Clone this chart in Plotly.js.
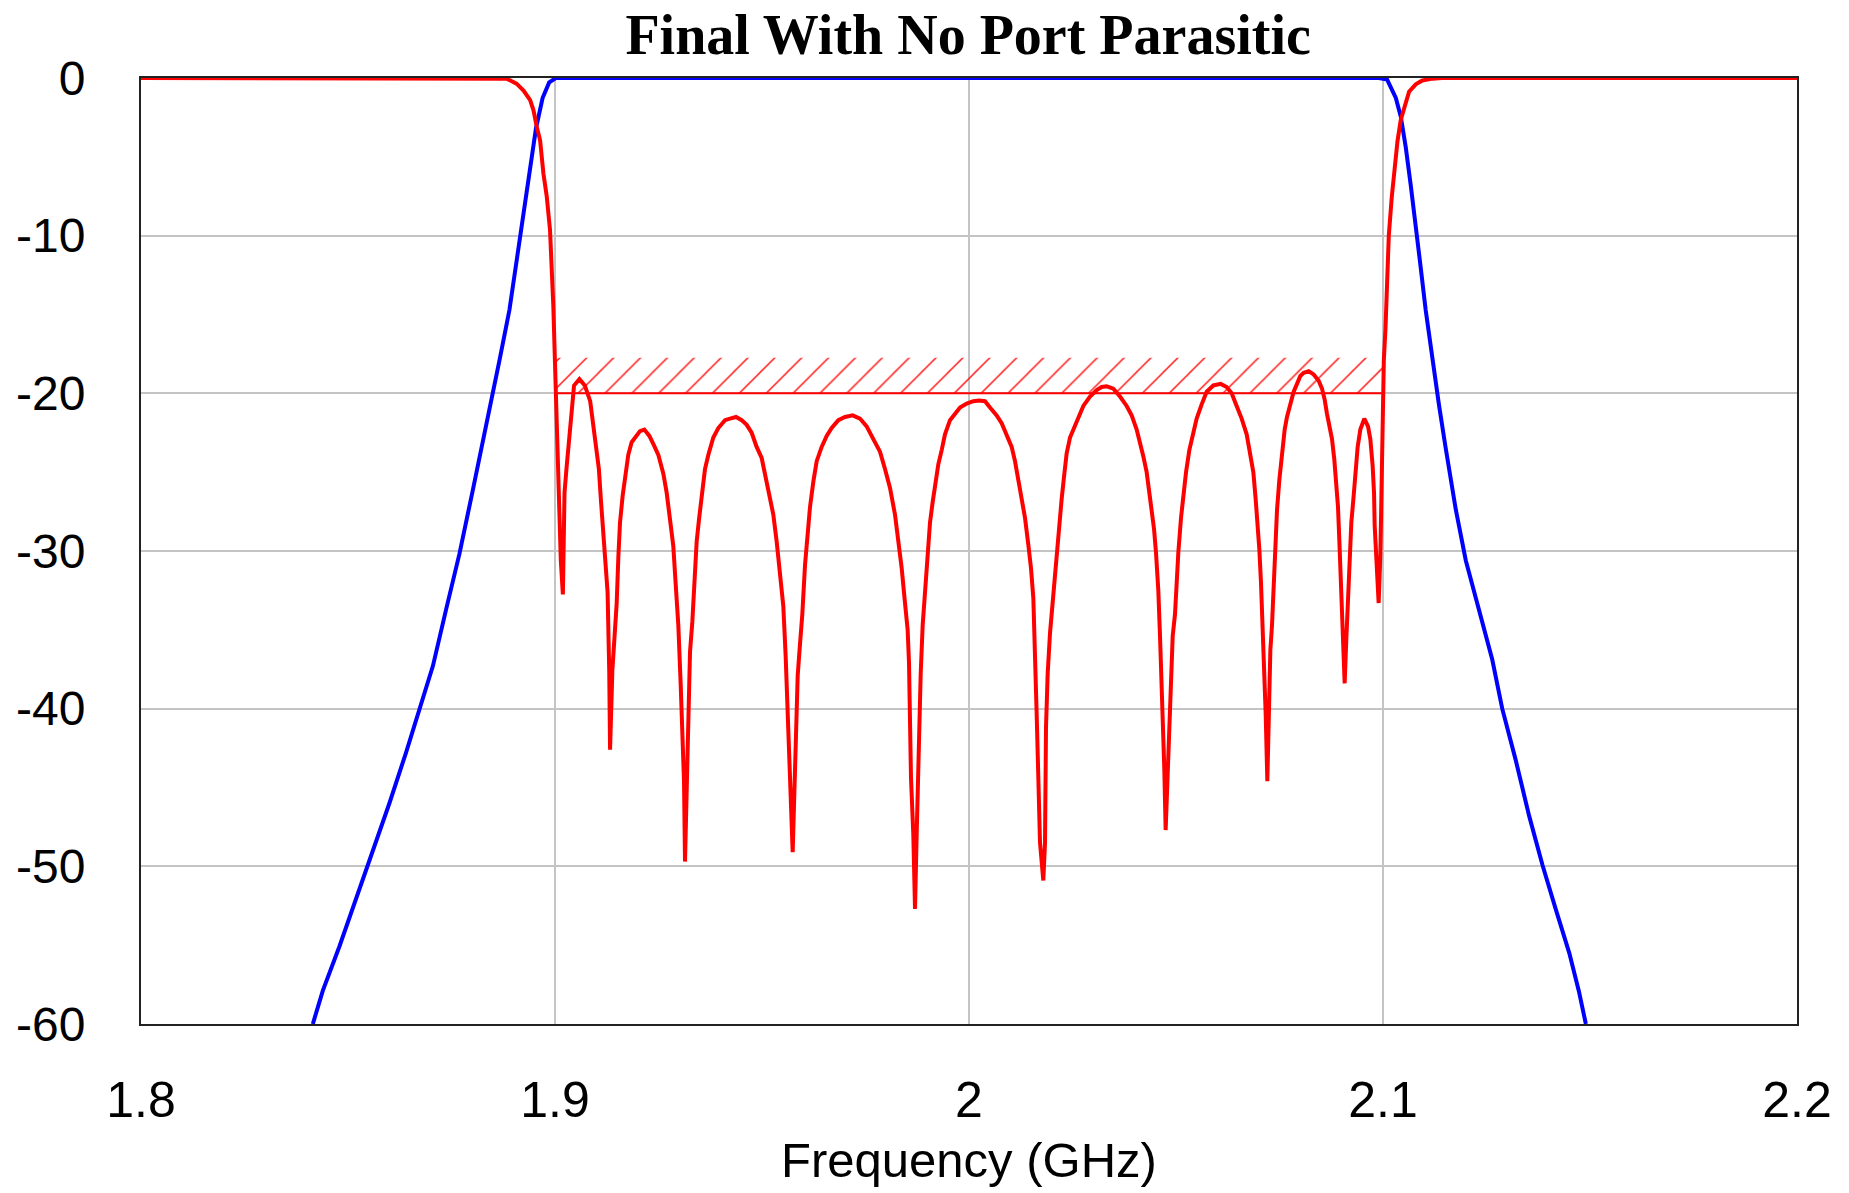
<!DOCTYPE html>
<html>
<head>
<meta charset="utf-8">
<script src="https://cdn.plot.ly/plotly-3.0.1.min.js"></script>
<style>
  html, body { margin: 0; padding: 0; background: #ffffff; }
  #chart { width: 1849px; height: 1193px; }
</style>
</head>
<body>
<div id="chart"></div>
<script>
// ---- Data ----
// S11 (red): frequency in GHz, magnitude in dB
const s11Freq = [
  1.8, 1.8839, 1.8883, 1.8907, 1.8924, 1.894, 1.8948, 1.8956, 1.8964, 1.8972, 1.898, 1.8988, 1.8992, 1.8996, 1.9, 1.9002,
  1.9004, 1.901, 1.9014, 1.9019, 1.9023, 1.9028, 1.9035, 1.904, 1.9046, 1.9059, 1.9072, 1.9085, 1.9093, 1.9101, 1.9106, 1.9111, 1.9117, 1.9123, 1.9127, 1.9131, 1.9133,
  1.91385, 1.91433, 1.9149, 1.9153, 1.9157, 1.91634, 1.9169, 1.9177, 1.91852, 1.91957, 1.92053, 1.92158, 1.92279, 1.92391, 1.92496, 1.92617, 1.92697, 1.92778, 1.92858, 1.92915, 1.92979, 1.93035, 1.93084, 1.93116, 1.9314,
  1.9318, 1.93221, 1.93261, 1.93317, 1.93366, 1.93422, 1.93478, 1.93543, 1.93623, 1.93704, 1.93824, 1.93945, 1.94106, 1.94227, 1.94372, 1.94509, 1.9463, 1.9475, 1.94871, 1.94992, 1.95113, 1.95193, 1.95274, 1.95354, 1.95435, 1.95515, 1.95572, 1.9562, 1.9566, 1.957, 1.95741,
  1.95781, 1.95813, 1.95862, 1.95918, 1.95974, 1.96039, 1.96095, 1.9616, 1.9624, 1.96321, 1.96441, 1.96562, 1.96683, 1.96844, 1.97005, 1.9719, 1.97367, 1.97528, 1.97689, 1.9785, 1.97971, 1.98092, 1.98213, 1.98293, 1.98374, 1.98454, 1.98518, 1.98551, 1.98575, 1.98599, 1.98655, 1.98696,
  1.98736, 1.98776, 1.98833, 1.98881, 1.98937, 1.98994, 1.99058, 1.99122, 1.99179, 1.99259, 1.9934, 1.9942, 1.99541, 1.99662, 1.99783, 1.99944, 2.00105, 2.00242, 2.00386, 2.00507, 2.00668, 2.00789, 2.0091, 2.01031, 2.01111, 2.01192, 2.01272, 2.01353, 2.01433, 2.01498, 2.01554, 2.01594, 2.01634, 2.01675, 2.01715, 2.01795,
  2.01836, 2.0186, 2.019, 2.01957, 2.02013, 2.02061, 2.02118, 2.02182, 2.02238, 2.02295, 2.02359, 2.0244, 2.0252, 2.02641, 2.02762, 2.02923, 2.03084, 2.03205, 2.03325, 2.03486, 2.03647, 2.03808, 2.03929, 2.0405, 2.0413, 2.04211, 2.04291, 2.04356, 2.04412, 2.04469, 2.04517, 2.04573, 2.04614, 2.04654, 2.04694, 2.04718, 2.0475,
  2.04799, 2.04839, 2.04879, 2.0492, 2.04976, 2.05016, 2.05056, 2.05121, 2.05177, 2.05242, 2.05322, 2.05403, 2.05499, 2.0562, 2.05741, 2.05902, 2.06079, 2.06224, 2.06345, 2.06465, 2.06586, 2.06707, 2.06787, 2.06868, 2.06924, 2.06973, 2.07013, 2.07053, 2.07093, 2.07126, 2.07166, 2.07206,
  2.07279, 2.07319, 2.07359, 2.074, 2.0744, 2.07496, 2.07561, 2.07625, 2.07681, 2.07762, 2.07842, 2.07923, 2.08003, 2.08084, 2.08205, 2.08325, 2.08446, 2.08527, 2.08591, 2.08647, 2.08712, 2.08768, 2.08824, 2.08873, 2.08913, 2.08945, 2.08977, 2.0901, 2.0905, 2.09074,
  2.09114, 2.09147, 2.09187, 2.09235, 2.09291, 2.09332, 2.09388, 2.09452, 2.09549, 2.09638, 2.09694, 2.0975, 2.09783, 2.09799, 2.09831, 2.09863, 2.09895, 2.09936, 2.0996, 2.09984, 2.1,
  2.1002, 2.1006, 2.101, 2.1014, 2.1021, 2.1027, 2.1035, 2.1043, 2.1051, 2.1063, 2.1079, 2.1095, 2.1119, 2.1143, 2.2
];
const s11dB = [
  0, 0, -0.04, -0.36, -0.8, -1.4, -2.05, -3.1, -3.95, -6.06, -7.5, -9.65, -11.55, -14.5, -18.1, -20,
  -22.7, -26.3, -30.6, -32.75, -26.3, -24.7, -22.9, -21.2, -19.5, -19.1, -19.5, -20.5, -22.2, -23.4, -24.8, -26.8, -29.2, -30.9, -32.6, -37.6, -42.6,
  -37.6, -35.5, -33.3, -30.4, -28.2, -26.5, -25.3, -23.9, -23.1, -22.7, -22.4, -22.3, -22.7, -23.3, -23.9, -25.1, -26.3, -28, -29.7, -32.1, -34.7, -38.4, -41.3, -44.6, -49.7,
  -44.6, -41, -36.4, -34.5, -32.3, -29.4, -28, -26.3, -24.8, -23.9, -22.8, -22.2, -21.7, -21.6, -21.5, -21.7, -22, -22.5, -23.4, -24.1, -25.6, -26.5, -27.7, -29.4, -31.6, -33.5, -36.7, -39.8, -42.7, -45.4, -49.1,
  -45.4, -42.2, -37.9, -35.9, -34, -30.9, -28.9, -27.2, -25.6, -24.3, -23.4, -22.7, -22.2, -21.7, -21.5, -21.4, -21.6, -22.1, -22.9, -23.7, -24.8, -26, -27.7, -29.2, -31.1, -33.3, -35, -37.1, -40.8, -44.4, -48, -52.7,
  -48, -42.4, -37.8, -34.7, -32.5, -30.6, -28.2, -26.9, -25.7, -24.5, -23.6, -22.6, -21.7, -21.3, -20.9, -20.65, -20.5, -20.45, -20.5, -20.9, -21.4, -21.9, -22.6, -23.4, -24.3, -25.5, -26.5, -27.9, -29.6, -31.1, -33, -35.9, -40.3, -44.4, -48.5, -50.9,
  -48.5, -41.2, -37.8, -35.2, -33.5, -31.5, -29.6, -28.2, -26.7, -25.3, -23.8, -22.8, -22.3, -21.4, -20.8, -20.2, -19.8, -19.6, -19.55, -19.7, -20.2, -20.8, -21.4, -22.3, -23.1, -24, -25, -26.2, -27.4, -28.6, -30.1, -32.5, -35.4, -38.3, -40.8, -43.9, -47.7,
  -44.4, -40.8, -37.8, -35.4, -34, -31.5, -30.1, -27.9, -26.5, -25, -23.6, -22.6, -21.6, -20.7, -19.9, -19.5, -19.4, -19.6, -20, -20.8, -21.6, -22.6, -23.8, -25, -26.7, -28.2, -29.9, -32, -34.7, -37.1, -40.3, -44.6,
  -36.3, -34.7, -32.2, -29.5, -27.4, -25.5, -23.6, -22.3, -21.5, -20.6, -19.9, -19.4, -18.9, -18.7, -18.6, -18.8, -19.2, -19.7, -20.4, -21.3, -22.1, -22.9, -24.2, -25.5, -27.2, -29.3, -31.8, -34.5, -36.6, -38.4,
  -35.6, -33.1, -30.1, -28.2, -26.5, -24.8, -23.4, -22.3, -21.6, -22.1, -22.9, -24.6, -26.3, -28.4, -30.5, -32.4, -33.3, -30.3, -26.7, -22.9, -20.2,
  -17.9, -15.9, -12.3, -10, -7.6, -5.8, -4.0, -2.65, -1.86, -0.87, -0.4, -0.16, -0.04, 0, 0
];

// S21 (blue): frequency in GHz, magnitude in dB
const s21Freq = [
  1.8415, 1.8439, 1.8479, 1.8519, 1.856, 1.86, 1.864, 1.8672, 1.8705, 1.8737, 1.8769, 1.8801, 1.8833, 1.8866, 1.889, 1.8914, 1.8938, 1.8954, 1.897, 1.8986, 1.9002,
  1.93, 1.96, 2.0, 2.04, 2.07, 2.099,
  2.101, 2.1031, 2.1043, 2.1055, 2.1067, 2.1079, 2.1091, 2.1103, 2.1119, 2.1135, 2.1151, 2.1176, 2.12, 2.1232, 2.1264, 2.1288, 2.132, 2.1353, 2.1385, 2.1417, 2.145, 2.1473, 2.149
];
const s21dB = [
  -60, -57.9, -55.1, -52.1, -49.1, -46.0, -42.8, -40.0, -37.3, -33.7, -30.2, -26.2, -22.2, -17.9, -14.7, -10.4, -6.4, -3.2, -1.27, -0.28, 0,
  0, 0, 0, 0, 0, 0,
  -0.1, -1.27, -2.45, -4.4, -6.8, -9.2, -12, -14.7, -17.9, -20.7, -23.4, -27.4, -30.6, -33.7, -36.9, -40, -43.2, -46.8, -49.9, -52.7, -55.5, -57.9, -60
];

// Return-loss mask (hatched region)
const maskFreq = [1.9, 2.1];
const maskLevel = -20;
const maskHatchTop = -17.75;

// Axes
const xTickVals = [1.8, 1.9, 2.0, 2.1, 2.2];
const xTickText = ['1.8', '1.9', '2', '2.1', '2.2'];
const yTickVals = [0, -10, -20, -30, -40, -50, -60];
const yTickText = ['0', '-10', '-20', '-30', '-40', '-50', '-60'];

const titleText = 'Final With No Port Parasitic';
const xTitleText = 'Frequency (GHz)';

// ---- Traces ----
const hatch = {
  x: [maskFreq[0], maskFreq[1], maskFreq[1], maskFreq[0], maskFreq[0]],
  y: [maskLevel, maskLevel, maskHatchTop, maskHatchTop, maskLevel],
  mode: 'lines',
  fill: 'toself',
  fillcolor: 'rgba(0,0,0,0)',
  fillpattern: { shape: '/', fgcolor: '#ff0000', bgcolor: 'rgba(0,0,0,0)', size: 19, solidity: 0.07 },
  line: { width: 0, color: 'rgba(0,0,0,0)' },
  hoverinfo: 'skip',
  showlegend: false
};
const maskLine = {
  x: maskFreq,
  y: [maskLevel, maskLevel],
  mode: 'lines',
  line: { color: '#ff0000', width: 2 },
  hoverinfo: 'skip',
  showlegend: false
};
const s21 = {
  x: s21Freq, y: s21dB, mode: 'lines', name: 'S21',
  line: { color: '#0000ff', width: 4 },
  showlegend: false
};
const s11 = {
  x: s11Freq, y: s11dB, mode: 'lines', name: 'S11',
  line: { color: '#ff0000', width: 4 },
  showlegend: false
};

const layout = {
  width: 1849,
  height: 1193,
  paper_bgcolor: '#ffffff',
  plot_bgcolor: '#ffffff',
  margin: { l: 141, r: 52, t: 78, b: 169, autoexpand: false },
  title: {
    text: titleText,
    font: { family: 'Liberation Serif, Times New Roman, serif', size: 56, color: '#000000', weight: 'bold' },
    x: 0.5236, xref: 'container', xanchor: 'center',
    y: 0.971, yref: 'container', yanchor: 'middle'
  },
  xaxis: {
    range: [1.8, 2.2],
    tickmode: 'array', tickvals: xTickVals, ticktext: xTickText,
    ticks: '', ticklabelstandoff: 31,
    tickfont: { family: 'Liberation Sans, Arial, sans-serif', size: 50, color: '#000000' },
    showgrid: true, gridcolor: '#c4c4c4', gridwidth: 2,
    zeroline: false,
    showline: true, linecolor: '#222222', linewidth: 2, mirror: true,
    layer: 'below traces',
    title: { text: xTitleText, font: { family: 'Liberation Sans, Arial, sans-serif', size: 49, color: '#000000' }, standoff: 16 }
  },
  yaxis: {
    range: [-60, 0],
    tickmode: 'array', tickvals: yTickVals, ticktext: yTickText,
    ticks: '', ticklabelstandoff: 44,
    tickfont: { family: 'Liberation Sans, Arial, sans-serif', size: 48, color: '#000000' },
    showgrid: true, gridcolor: '#c4c4c4', gridwidth: 2,
    zeroline: false,
    showline: true, linecolor: '#222222', linewidth: 2, mirror: true,
    layer: 'below traces'
  },
  showlegend: false
};

Plotly.newPlot('chart', [hatch, maskLine, s21, s11], layout, { displayModeBar: false, staticPlot: true });
</script>
</body>
</html>
